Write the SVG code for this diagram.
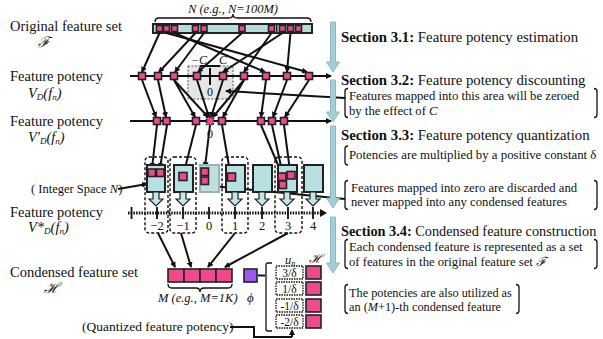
<svg xmlns="http://www.w3.org/2000/svg" width="603" height="339" viewBox="0 0 603 339" font-family="'Liberation Serif', 'DejaVu Serif', serif">
<defs>
<marker id="ah" markerWidth="6" markerHeight="6" refX="5" refY="3" orient="auto" markerUnits="userSpaceOnUse"><path d="M0,0 L6,3 L0,6 z" fill="#111"/></marker>
<style>
text{font-family:'Liberation Serif','DejaVu Serif',serif;fill:#111}
.it{font-style:italic}
.ln{stroke:#111;stroke-width:2;fill:none}
.ar{stroke:#111;stroke-width:2;fill:none;marker-end:url(#ah)}
.pk{fill:#ee4b8c;stroke:#222;stroke-width:1.6}
.cy{fill:#b9e0e1;stroke:#222;stroke-width:2}
.dash{fill:none;stroke:#111;stroke-width:1.4;stroke-dasharray:3,2}
.br{fill:none;stroke:#111;stroke-width:1.3}
.va{fill:#a2cfd3;stroke:#8fb9bd;stroke-width:1}
.qa{fill:#c4e6e8;stroke:#222;stroke-width:1.2}
</style>
</defs>

<g id="labels" font-size="14.5">
<text x="10" y="31">Original feature set</text>
<text class="it" x="38" y="47">ℱ</text>
<text x="10" y="81">Feature potency</text>
<text class="it" x="28" y="98">V<tspan font-size="9" dy="2">D</tspan><tspan dy="-2">(f</tspan><tspan font-size="9" dy="2">n</tspan><tspan dy="-2">)</tspan></text>
<text x="10" y="126">Feature potency</text>
<text class="it" x="28" y="142">V'<tspan font-size="9" dy="2">D</tspan><tspan dy="-2">(f</tspan><tspan font-size="9" dy="2">n</tspan><tspan dy="-2">)</tspan></text>
<text font-size="12.5" x="31" y="193">( Integer Space <tspan class="it">N</tspan>)</text>
<text x="10" y="217">Feature potency</text>
<text class="it" x="28" y="232">V*<tspan font-size="9" dy="2">D</tspan><tspan dy="-2">(f</tspan><tspan font-size="9" dy="2">n</tspan><tspan dy="-2">)</tspan></text>
<text x="10" y="277">Condensed feature set</text>
<text class="it" x="44" y="293">ℋ</text>
<text font-size="13.5" x="82" y="331">(Quantized feature potency)</text>
</g>

<g id="orig">
<text class="it" font-size="12.5" x="233" y="13" text-anchor="middle">N  (e.g., N=100M)</text>
<path class="br" d="M155,22 Q155,18 159,18 L229,18 Q233,18 233,14 Q233,18 237,18 L307,18 Q311,18 311,22"/>
<rect x="153" y="24" width="159" height="9" fill="#b5dcdc" stroke="#222" stroke-width="2"/>
<rect class="pk" x="156.5" y="25.5" width="6" height="6"/>
<rect class="pk" x="163.5" y="25.5" width="6" height="6"/>
<rect class="pk" x="171.5" y="25.5" width="6" height="6"/>
<rect class="pk" x="192.5" y="25.5" width="6" height="6"/>
<rect class="pk" x="201" y="25.5" width="6" height="6"/>
<rect class="pk" x="239" y="25.5" width="6" height="6"/>
<rect class="pk" x="268.5" y="25.5" width="6" height="6"/>
<rect x="276" y="25" width="1.5" height="7" fill="#222"/>
<rect class="pk" x="279.5" y="25.5" width="6" height="6"/>
<rect class="pk" x="287.5" y="25.5" width="6" height="6"/>
<rect class="pk" x="295.5" y="25.5" width="6" height="6"/>
</g>

<g id="zero-area">
<rect x="188" y="66" width="45" height="33" fill="#e6e6e6" stroke="#555" stroke-width="1" stroke-dasharray="2,1.5"/>
<text class="it" font-size="12" x="199" y="64" text-anchor="middle">−C</text>
<text class="it" font-size="12" x="223" y="64" text-anchor="middle">C</text>
<line class="ln" x1="210" y1="68" x2="210" y2="85" stroke-width="1.5"/>
<line class="ln" x1="200" y1="66" x2="220" y2="66" stroke-width="1"/>
<text font-size="12" x="210" y="96" text-anchor="middle" fill="#444">0</text>
</g>

<g id="connectors">
<line class="ar" x1="159.5" y1="33" x2="142" y2="72"/>
<line class="ar" x1="166.5" y1="33" x2="307" y2="72"/>
<line class="ar" x1="174.5" y1="33" x2="265" y2="72"/>
<line class="ar" x1="195.5" y1="33" x2="159" y2="72"/>
<line class="ar" x1="204" y1="33" x2="175" y2="72"/>
<line class="ar" x1="242" y1="33" x2="198" y2="72"/>
<line class="ar" x1="271.5" y1="33" x2="244" y2="72"/>
<line class="ar" x1="282.5" y1="33" x2="223" y2="72"/>
<line class="ar" x1="290.5" y1="33" x2="287" y2="72"/>
<line class="ar" x1="130" y1="76" x2="331" y2="76"/>
<line class="ar" x1="130" y1="121" x2="331" y2="121"/>
<line class="ar" x1="142" y1="80" x2="156" y2="117"/>
<line class="ar" x1="158" y1="80" x2="166" y2="117"/>
<line class="ar" x1="174" y1="80" x2="195" y2="117"/>
<line class="ar" x1="174" y1="80" x2="208" y2="117"/>
<line class="ar" x1="197" y1="80" x2="209" y2="117"/>
<line class="ar" x1="223" y1="80" x2="211" y2="117"/>
<line class="ar" x1="244" y1="80" x2="213" y2="117"/>
<line class="ar" x1="244" y1="80" x2="223" y2="117"/>
<line class="ar" x1="266" y1="80" x2="261" y2="117"/>
<line class="ar" x1="287" y1="80" x2="273" y2="117"/>
<line class="ar" x1="309" y1="80" x2="285" y2="117"/>
<line class="ar" x1="157" y1="125" x2="152" y2="168"/>
<line class="ar" x1="167" y1="125" x2="160" y2="168"/>
<line class="ar" x1="196" y1="125" x2="184" y2="172"/>
<line class="ar" x1="210" y1="125" x2="205" y2="167"/>
<line class="ar" x1="222" y1="125" x2="230" y2="172"/>
<line class="ar" x1="261" y1="125" x2="281" y2="172"/>
<line class="ar" x1="272" y1="125" x2="284" y2="180"/>
<line class="ar" x1="284" y1="125" x2="290" y2="171"/>
<line x1="128" y1="213" x2="322" y2="213" stroke="#111" stroke-width="3" stroke-dasharray="1.5,1.2"/>
<path d="M320,209 L327,213 L320,217 z" fill="#111"/>
<line class="ar" x1="158" y1="233" x2="175" y2="267"/>
<line class="ar" x1="181" y1="233" x2="191" y2="267"/>
<line class="ar" x1="235" y1="233" x2="208" y2="267"/>
<line class="ar" x1="288" y1="233" x2="225" y2="267"/>
<line class="ar" x1="345" y1="98" x2="226" y2="91"/>
<line class="ar" x1="345" y1="199" x2="212" y2="186"/>
<line class="ar" x1="118" y1="189" x2="147" y2="184"/>
<polyline class="ln" points="230,327 254,327 254,337 292,337" stroke-width="1.6"/>
<line class="ar" x1="292" y1="337" x2="292" y2="330" stroke-width="1.6"/>
</g>

<g id="line1">
<rect class="pk" x="138.5" y="72.5" width="7" height="7"/>
<rect class="pk" x="154.5" y="72.5" width="7" height="7"/>
<rect class="pk" x="170.5" y="72.5" width="7" height="7"/>
<rect class="pk" x="193.5" y="72.5" width="7" height="7"/>
<rect class="pk" x="219.5" y="72.5" width="7" height="7"/>
<rect class="pk" x="240.5" y="72.5" width="7" height="7"/>
<rect class="pk" x="262.5" y="72.5" width="7" height="7"/>
<rect class="pk" x="283.5" y="72.5" width="7" height="7"/>
<rect class="pk" x="305.5" y="72.5" width="7" height="7"/>
</g>

<g id="line2">
<rect class="pk" x="153.5" y="117.5" width="7" height="7"/>
<rect class="pk" x="163" y="117.5" width="7" height="7"/>
<rect class="pk" x="192.5" y="117.5" width="7" height="7"/>
<rect class="pk" x="206.5" y="117.5" width="7" height="7" stroke-dasharray="1.5,1"/>
<rect class="pk" x="218.5" y="117.5" width="7" height="7"/>
<rect class="pk" x="257.5" y="117.5" width="7" height="7"/>
<rect class="pk" x="268.5" y="117.5" width="7" height="7"/>
<rect class="pk" x="280.5" y="117.5" width="7" height="7"/>
<text font-size="12" x="210" y="138" text-anchor="middle" fill="#444">0</text>
</g>

<g id="quant">
<rect class="dash" x="145" y="157" width="23" height="76" rx="4"/>
<rect class="dash" x="170" y="157" width="26" height="76" rx="4"/>
<rect class="dash" x="222" y="157" width="26" height="76" rx="4"/>
<rect class="dash" x="275" y="157" width="27" height="76" rx="4"/>
<rect class="cy" x="147" y="165" width="18" height="27"/>
<rect class="cy" x="174" y="165" width="19" height="27"/>
<rect x="200" y="165" width="19" height="27" fill="#c3dedf" stroke="#94b6b8" stroke-width="2"/>
<rect class="cy" x="226" y="165" width="19" height="27"/>
<rect class="cy" x="253" y="165" width="19" height="27"/>
<rect class="cy" x="278" y="165" width="19" height="27"/>
<rect class="cy" x="304" y="165" width="19" height="27"/>
<rect class="pk" x="148" y="169" width="7.5" height="7.5"/>
<rect class="pk" x="156.5" y="169" width="7.5" height="7.5"/>
<rect class="pk" x="179" y="172.5" width="8" height="8"/>
<rect class="pk" x="201" y="168" width="7.5" height="7.5"/>
<rect class="pk" x="201" y="177" width="7.5" height="7.5"/>
<rect class="pk" x="227.5" y="173" width="8" height="8"/>
<rect class="pk" x="278" y="173" width="8" height="7.5"/>
<rect class="pk" x="287" y="171.5" width="8" height="7.5"/>
<rect class="pk" x="279" y="181" width="7.5" height="7.5"/>
<path class="qa" d="M153,192 h6 v7 h4 l-7,7 l-7,-7 h4 z"/>
<path class="qa" d="M180,192 h6 v7 h4 l-7,7 l-7,-7 h4 z"/>
<path class="qa" d="M232,192 h6 v7 h4 l-7,7 l-7,-7 h4 z"/>
<path class="qa" d="M259,192 h6 v7 h4 l-7,7 l-7,-7 h4 z"/>
<path class="qa" d="M284,192 h6 v7 h4 l-7,7 l-7,-7 h4 z"/>
<path class="qa" d="M310,192 h6 v7 h4 l-7,7 l-7,-7 h4 z"/>
</g>

<g id="axis">
<g stroke="#111" stroke-width="1.8">
<line x1="131.5" y1="207" x2="131.5" y2="219"/>
<line x1="157" y1="207" x2="157" y2="219"/>
<line x1="183" y1="207" x2="183" y2="219"/>
<line x1="209" y1="207" x2="209" y2="219"/>
<line x1="235" y1="207" x2="235" y2="219"/>
<line x1="262" y1="207" x2="262" y2="219"/>
<line x1="288" y1="207" x2="288" y2="219"/>
<line x1="313" y1="207" x2="313" y2="219"/>
</g>
<g font-size="12.5" text-anchor="middle">
<text x="157" y="230" fill="#444">−2</text>
<text x="183" y="230" fill="#444">−1</text>
<text x="209" y="230" fill="#444">0</text>
<text x="235" y="230" fill="#444">1</text>
<text x="262" y="230" fill="#444">2</text>
<text x="288" y="230" fill="#444">3</text>
<text x="313" y="230" fill="#444">4</text>
</g>
</g>

<g id="condensed">
<rect class="pk" x="168" y="269" width="16" height="13" stroke-width="2"/>
<rect class="pk" x="184" y="269" width="16" height="13" stroke-width="2"/>
<rect class="pk" x="200" y="269" width="16" height="13" stroke-width="2"/>
<rect class="pk" x="216" y="269" width="16" height="13" stroke-width="2"/>
<path class="br" d="M168,284 Q168,288 172,288 L196,288 Q200,288 200,292 Q200,288 204,288 L228,288 Q232,288 232,284" stroke-width="1.6"/>
<text class="it" font-size="12.5" x="158" y="302">M  (e.g., M=1K)</text>
<text class="it" font-size="13" x="247" y="302">ϕ</text>
</g>

<g id="phi">
<rect x="244" y="269" width="13" height="13" fill="#9b59f0" stroke="#222" stroke-width="1.6"/>
<line class="ln" x1="258" y1="275.5" x2="265" y2="275.5" stroke-width="1.5"/>
<path class="br" d="M272,263 h-4 q-2,0 -2,2 v64 q0,2 2,2 h4" stroke-width="1.6"/>
</g>

<g id="un-table">
<text class="it" font-size="12.5" x="290" y="264" text-anchor="middle">u<tspan font-size="8" dy="2">n</tspan></text>
<text class="it" font-size="12.5" x="315" y="263" text-anchor="middle">ℋ</text>
<g fill="#fff" stroke="#111" stroke-width="1.3" stroke-dasharray="1.5,1">
<rect x="276" y="266" width="27" height="13"/>
<rect x="276" y="282" width="27" height="13"/>
<rect x="276" y="299" width="27" height="13"/>
<rect x="276" y="315" width="27" height="13"/>
</g>
<g font-size="11.5" text-anchor="middle">
<text x="289.5" y="276.5" fill="#333">3/δ</text>
<text x="289.5" y="292.5" fill="#333">1/δ</text>
<text x="289.5" y="309.5" fill="#333">-1/δ</text>
<text x="289.5" y="325.5" fill="#333">-2/δ</text>
</g>
<rect class="pk" x="306" y="266" width="15" height="13" stroke-width="2"/>
<rect class="pk" x="306" y="282" width="15" height="13" stroke-width="2"/>
<rect class="pk" x="306" y="299" width="15" height="13" stroke-width="2"/>
<rect class="pk" x="306" y="315" width="15" height="13" stroke-width="2"/>
</g>

<g id="flow">
<path class="va" d="M330.5,22 h5 v40 h4 l-6.5,10 l-6.5,-10 h4 z"/>
<path class="va" d="M330.5,80 h5 v32 h4 l-6.5,10 l-6.5,-10 h4 z"/>
<path class="va" d="M330.5,126 h5 v72 h4 l-6.5,10 l-6.5,-10 h4 z"/>
<path class="va" d="M330.5,217 h5 v46 h4 l-6.5,10 l-6.5,-10 h4 z"/>
</g>

<g id="sec31">
<text font-size="14.8" x="341" y="42"><tspan font-weight="bold">Section 3.1:</tspan> Feature potency estimation</text>
</g>
<g id="sec32">
<text font-size="14.8" x="341" y="85"><tspan font-weight="bold">Section 3.2:</tspan> Feature potency discounting</text>
<path class="br" d="M348,88.5 q-3,0 -3,3 v23 q0,3 3,3"/>
<path class="br" d="M594,88.5 q3,0 3,3 v23 q0,3 -3,3"/>
<text font-size="12.7" x="349" y="100">Features mapped into this area will be zeroed</text>
<text font-size="12.7" x="349" y="114.5">by the effect of <tspan class="it">C</tspan></text>
</g>
<g id="sec33">
<text font-size="14.8" x="341" y="140"><tspan font-weight="bold">Section 3.3:</tspan> Feature potency quantization</text>
<path class="br" d="M348,146 q-3,0 -3,3 v13 q0,3 3,3"/>
<text font-size="12.8" x="349" y="159">Potencies are multiplied by a positive constant δ</text>
<path class="br" d="M348,180.5 q-3,0 -3,3 v23 q0,3 3,3"/>
<path class="br" d="M594,180.5 q3,0 3,3 v23 q0,3 -3,3"/>
<text font-size="12.7" x="351" y="191.5">Features mapped into zero are discarded and</text>
<text font-size="12.7" x="351" y="206">never mapped into any condensed features</text>
</g>
<g id="sec34">
<text font-size="14.3" x="341" y="236"><tspan font-weight="bold">Section 3.4:</tspan> Condensed feature construction</text>
<path class="br" d="M348,239.5 q-3,0 -3,3 v23 q0,3 3,3"/>
<path class="br" d="M594,239.5 q3,0 3,3 v23 q0,3 -3,3"/>
<text font-size="12.7" x="349" y="251">Each condensed feature is represented as a set</text>
<text font-size="12.7" x="349" y="265.5">of features in the original feature set <tspan class="it">ℱ</tspan></text>
</g>
<g id="note-potency">
<path class="br" d="M348,284.5 q-3,0 -3,3 v23 q0,3 3,3"/>
<path class="br" d="M516,284.5 q3,0 3,3 v23 q0,3 -3,3"/>
<text font-size="12.3" x="349" y="296.5">The potencies are also utilized as</text>
<text font-size="12.3" x="349" y="311">an (<tspan class="it">M</tspan>+1)-th condensed feature</text>
</g>
</svg>
